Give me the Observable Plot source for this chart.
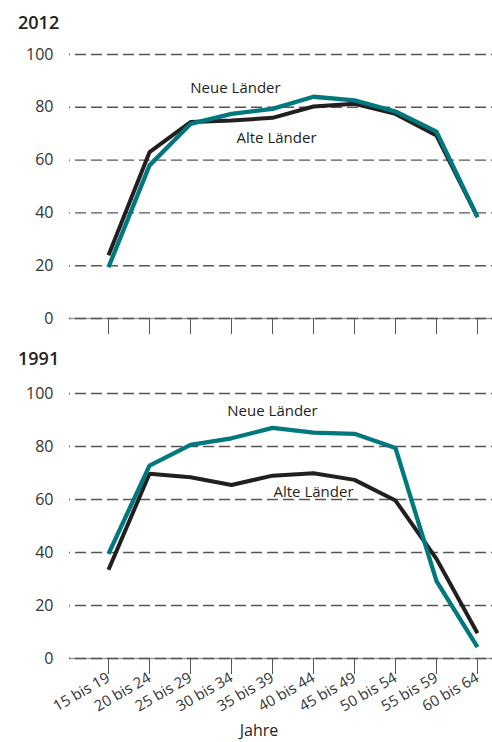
<!DOCTYPE html>
<html>
<head>
<meta charset="utf-8">
<script src="https://cdn.jsdelivr.net/npm/d3@7"></script>
<script src="https://cdn.jsdelivr.net/npm/@observablehq/plot@0.6"></script>
<style>
  html, body { margin: 0; padding: 0; background: #fff; }
  #wrap { position: relative; width: 492px; height: 742px; font-family: "Open Sans", sans-serif; color: #231f20; }
  .title { position: absolute; left: 18px; font-size: 18px; font-weight: 600; line-height: 20px; }
  .chart { position: absolute; left: 0; }
  .chart svg { font-family: "Open Sans", sans-serif !important; overflow: visible; }
</style>
</head>
<body>
<div id="wrap">
  <div class="title" id="t1" style="top:12px">2012</div>
  <div class="chart" id="c1" style="top:30px"></div>
  <div class="title" id="t2" style="top:348px">1991</div>
  <div class="chart" id="c2" style="top:370px"></div>
</div>
<script>
const ages = ["15 bis 19", "20 bis 24", "25 bis 29", "30 bis 34", "35 bis 39", "40 bis 44", "45 bis 49", "50 bis 54", "55 bis 59", "60 bis 64"];
const alte2012 = [24, 63, 74.4, 75, 76, 80.3, 81.3, 77.5, 69.3, 38.4];
const neue2012 = [19.4, 58, 73.7, 77.5, 79.4, 84, 82.6, 78.4, 70.8, 38.4];
const alte1991 = [33.5, 69.7, 68.4, 65.5, 69, 69.9, 67.4, 59.6, 37.6, 9.5];
const neue1991 = [39.5, 72.8, 80.6, 83.1, 87, 85.2, 84.8, 79.4, 29.2, 4.3];
const yTicks = [0, 20, 40, 60, 80, 100];
const seriesNames = ["Alte Länder", "Neue Länder"];
const labels2012 = [
  {name: "Neue Länder", age: "30 bis 34", value: 87.1},
  {name: "Alte Länder", age: "35 bis 39", value: 68.2}
];
const labels1991 = [
  {name: "Neue Länder", age: "35 bis 39", value: 93.2},
  {name: "Alte Länder", age: "40 bis 44", value: 62.8}
];
const axisTitle = "Jahre";

const colors = {"Alte Länder": "#231f20", "Neue Länder": "#00787e"};

function toRows(alte, neue) {
  const rows = [];
  ages.forEach((a, i) => rows.push({series: seriesNames[0], age: a, value: alte[i]}));
  ages.forEach((a, i) => rows.push({series: seriesNames[1], age: a, value: neue[i]}));
  return rows;
}

function chart(alte, neue, labels, opts) {
  const rows = toRows(alte, neue);
  return Plot.plot({
    width: 492,
    height: opts.height,
    marginLeft: 69,
    marginRight: 0,
    marginTop: opts.marginTop,
    marginBottom: opts.marginBottom,
    x: {type: "point", domain: ages, range: [105, 479], padding: 0},
    y: {domain: [0, 100]},
    marks: [
      Plot.ruleY([0], {stroke: "#9a9a9a", strokeWidth: 1.5}),
      Plot.ruleY(yTicks, {stroke: "#555", strokeWidth: 1.4, strokeDasharray: "11,5", strokeDashoffset: -6}),
      Plot.axisY({ticks: yTicks, tickSize: 0, tickPadding: 16, label: null, fontSize: 16, fill: "#333"}),
      Plot.axisX({
        tickSize: 16, stroke: "#555", label: null,
        tickFormat: opts.showX ? (d => d) : () => "",
        tickRotate: -30, tickPadding: 2, fontSize: 15, fill: "#333"
      }),
      Plot.line(rows.filter(d => d.series === seriesNames[0]), {x: "age", y: "value", stroke: colors[seriesNames[0]], strokeWidth: 4, strokeLinejoin: "miter", strokeLinecap: "butt"}),
      Plot.line(rows.filter(d => d.series === seriesNames[1]), {x: "age", y: "value", stroke: colors[seriesNames[1]], strokeWidth: 4.3, strokeLinejoin: "miter", strokeLinecap: "butt"}),
      Plot.text(labels, {x: "age", y: "value", text: "name", dx: opts.dx, fill: "#231f20", fontSize: 15}),
      opts.showX ? Plot.text([axisTitle], {frameAnchor: "bottom", dx: -22, dy: 77, fill: "#231f20", fontSize: 16}) : null
    ]
  });
}

document.getElementById("c1").append(chart(alte2012, neue2012, labels2012, {height: 310, marginTop: 24, marginBottom: 22, showX: false, dx: 4}));
document.getElementById("c2").append(chart(alte1991, neue1991, labels1991, {height: 372, marginTop: 23, marginBottom: 84, showX: true, dx: 0}));
</script>
</body>
</html>
